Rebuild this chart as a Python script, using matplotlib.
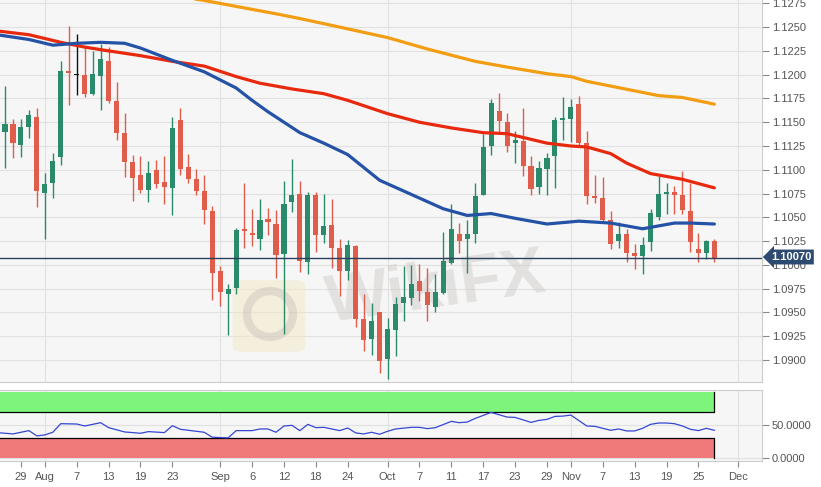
import matplotlib
matplotlib.use('Agg')
import matplotlib.pyplot as plt
import pandas as pd
import numpy as np
from matplotlib.patches import Rectangle, FancyBboxPatch, Ellipse

plt.rcParams['font.family'] = ['Liberation Sans', 'DejaVu Sans']

# ---------------- data ----------------
candle_dates = pd.bdate_range('2019-07-25', '2019-11-27')

opens = [1.1140, 1.1148, 1.1126, 1.1145, 1.1155, 1.1076, 1.1086, 1.1113, 1.1204, 1.1200,
         1.1200, 1.1180, 1.1199, 1.1214, 1.1172, 1.1139, 1.1108, 1.1095, 1.1079, 1.1100,
         1.1087, 1.1081, 1.1152, 1.1103, 1.1090, 1.1078, 1.1057, 1.0994, 1.0969, 1.0976,
         1.1038, 1.1034, 1.1027, 1.1048, 1.1043, 1.1011, 1.1066, 1.1075, 1.1003, 1.1074,
         1.1031, 1.1042, 1.1018, 1.0994, 1.1020, 1.0943, 1.0922, 1.0950, 1.0901, 1.0932,
         1.0960, 1.0965, 1.0983, 1.0972, 1.0956, 1.0970, 1.1002, 1.1033, 1.1027, 1.1033,
         1.1074, 1.1125, 1.1162, 1.1150, 1.1128, 1.1130, 1.1104, 1.1082, 1.1101, 1.1115,
         1.1152, 1.1153, 1.1169, 1.1128, 1.1072, 1.1070, 1.1047, 1.1025, 1.1033, 1.1012,
         1.1009, 1.1024, 1.1050, 1.1075, 1.1077, 1.1073, 1.1057, 1.1017, 1.1012, 1.1025]
highs = [1.1188, 1.1153, 1.1153, 1.1163, 1.1165, 1.1097, 1.1118, 1.1214, 1.1251, 1.1243,
         1.1229, 1.1225, 1.1232, 1.1229, 1.1192, 1.1160, 1.1116, 1.1114, 1.1109, 1.1110,
         1.1114, 1.1155, 1.1165, 1.1117, 1.1101, 1.1094, 1.1062, 1.0999, 1.0980, 1.1039,
         1.1086, 1.1059, 1.1069, 1.1060, 1.1058, 1.1088, 1.1111, 1.1088, 1.1077, 1.1077,
         1.1075, 1.1069, 1.1027, 1.1026, 1.1021, 1.0969, 1.0960, 1.0951, 1.0944, 1.0966,
         1.0999, 1.1000, 1.1001, 1.0997, 1.0990, 1.1035, 1.1064, 1.1044, 1.1047, 1.1086,
         1.1138, 1.1174, 1.1181, 1.1160, 1.1141, 1.1165, 1.1114, 1.1109, 1.1118, 1.1156,
         1.1176, 1.1174, 1.1178, 1.1141, 1.1094, 1.1092, 1.1057, 1.1045, 1.1038, 1.1022,
         1.1029, 1.1059, 1.1093, 1.1086, 1.1083, 1.1099, 1.1086, 1.1034, 1.1026, 1.1027]
lows = [1.1102, 1.1112, 1.1113, 1.1133, 1.1061, 1.1027, 1.1070, 1.1105, 1.1168, 1.1179,
        1.1177, 1.1179, 1.1163, 1.1170, 1.1131, 1.1092, 1.1067, 1.1076, 1.1066, 1.1081,
        1.1064, 1.1052, 1.1095, 1.1086, 1.1073, 1.1043, 1.0963, 1.0957, 1.0926, 1.0969,
        1.1018, 1.1020, 1.1016, 1.1031, 1.0986, 1.0927, 1.1056, 1.0993, 1.0990, 1.1014,
        1.1023, 1.0997, 1.0967, 1.0984, 1.0935, 1.0909, 1.0905, 1.0886, 1.0880, 1.0904,
        1.0941, 1.0958, 1.0962, 1.0941, 1.0951, 1.0969, 1.1001, 1.1013, 1.0991, 1.1023,
        1.1073, 1.1116, 1.1140, 1.1119, 1.1107, 1.1093, 1.1073, 1.1075, 1.1074, 1.1081,
        1.1131, 1.1129, 1.1126, 1.1064, 1.1065, 1.1046, 1.1017, 1.1018, 1.1003, 1.0996,
        1.0990, 1.1015, 1.1047, 1.1054, 1.1054, 1.1053, 1.1014, 1.1003, 1.1006, 1.1003]
closes = [1.1148, 1.1128, 1.1145, 1.1158, 1.1078, 1.1085, 1.1109, 1.1204, 1.1202, 1.1200,
          1.1180, 1.1201, 1.1216, 1.1172, 1.1139, 1.1108, 1.1091, 1.1079, 1.1097, 1.1085,
          1.1082, 1.1144, 1.1101, 1.1090, 1.1078, 1.1058, 1.0992, 1.0971, 1.0975, 1.1037,
          1.1036, 1.1031, 1.1047, 1.1045, 1.1010, 1.1064, 1.1074, 1.1004, 1.1074, 1.1031,
          1.1041, 1.1018, 1.0994, 1.1021, 1.0943, 1.0921, 1.0941, 1.0899, 1.0933, 1.0959,
          1.0966, 1.0980, 1.0973, 1.0958, 1.0971, 1.1004, 1.1038, 1.1025, 1.1033, 1.1072,
          1.1124, 1.1170, 1.1151, 1.1125, 1.1131, 1.1104, 1.1080, 1.1102, 1.1112, 1.1152,
          1.1154, 1.1166, 1.1128, 1.1072, 1.1070, 1.1047, 1.1022, 1.1033, 1.1012, 1.1009,
          1.1021, 1.1055, 1.1075, 1.1077, 1.1074, 1.1058, 1.1024, 1.1012, 1.1025, 1.1007]

last_price = 1.10070

ma_red_dates = ['2019-07-24', '2019-07-30', '2019-08-05', '2019-08-08', '2019-08-13', '2019-08-19',
                '2019-08-23', '2019-08-29', '2019-09-04', '2019-09-09', '2019-09-13', '2019-09-19',
                '2019-09-24', '2019-10-01', '2019-10-07', '2019-10-11', '2019-10-17', '2019-10-22',
                '2019-10-24', '2019-10-29', '2019-11-01', '2019-11-05', '2019-11-08', '2019-11-12',
                '2019-11-15', '2019-11-21', '2019-11-27']
ma_red = [1.1246, 1.1242, 1.1234, 1.1229, 1.1225, 1.1220, 1.1214, 1.1209, 1.1198, 1.1191,
          1.1185, 1.1180, 1.1173, 1.1159, 1.1150, 1.1144, 1.1139, 1.1138, 1.1134, 1.1128,
          1.1125, 1.1124, 1.1117, 1.1107, 1.1096, 1.1090, 1.1081]

ma_blue_dates = ['2019-07-24', '2019-07-30', '2019-08-02', '2019-08-07', '2019-08-12', '2019-08-15',
                 '2019-08-19', '2019-08-23', '2019-08-29', '2019-09-04', '2019-09-06', '2019-09-10',
                 '2019-09-16', '2019-09-19', '2019-09-24', '2019-09-30', '2019-10-04', '2019-10-10',
                 '2019-10-15', '2019-10-18', '2019-10-23', '2019-10-29', '2019-11-04', '2019-11-08',
                 '2019-11-14', '2019-11-20', '2019-11-22', '2019-11-27']
ma_blue = [1.1242, 1.1237, 1.1231, 1.1233, 1.1234, 1.1233, 1.1228, 1.1215, 1.1203, 1.1186,
           1.1173, 1.1161, 1.1139, 1.1128, 1.1116, 1.1089, 1.1074, 1.1059, 1.1052, 1.1054,
           1.1049, 1.1043, 1.1046, 1.1044, 1.1038, 1.1044, 1.1044, 1.1043]

ma_orange_dates = ['2019-08-26', '2019-08-29', '2019-09-11', '2019-09-16', '2019-09-23', '2019-10-01',
                   '2019-10-08', '2019-10-16', '2019-10-22', '2019-10-29', '2019-11-01', '2019-11-05',
                   '2019-11-13', '2019-11-18', '2019-11-21', '2019-11-27']
ma_orange = [1.1282, 1.1278, 1.1264, 1.1259, 1.1250, 1.1239, 1.1227, 1.1214, 1.1208, 1.1201,
             1.1198, 1.1193, 1.1183, 1.1178, 1.1176, 1.1169]

rsi_dates = ['2019-07-24', '2019-07-26', '2019-07-30', '2019-07-31', '2019-08-01', '2019-08-02',
             '2019-08-05', '2019-08-07', '2019-08-08', '2019-08-12', '2019-08-13', '2019-08-15',
             '2019-08-19', '2019-08-20', '2019-08-22', '2019-08-23', '2019-08-26', '2019-08-29',
             '2019-08-30', '2019-09-03', '2019-09-04', '2019-09-06', '2019-09-09', '2019-09-10',
             '2019-09-11', '2019-09-12', '2019-09-13', '2019-09-16', '2019-09-17', '2019-09-18',
             '2019-09-19', '2019-09-20', '2019-09-23', '2019-09-24', '2019-09-25', '2019-09-26',
             '2019-09-27', '2019-09-30', '2019-10-01', '2019-10-02', '2019-10-04', '2019-10-07',
             '2019-10-08', '2019-10-09', '2019-10-11', '2019-10-14', '2019-10-15', '2019-10-16',
             '2019-10-18', '2019-10-22', '2019-10-23', '2019-10-25', '2019-10-28', '2019-10-29',
             '2019-10-30', '2019-10-31', '2019-11-01', '2019-11-05', '2019-11-06', '2019-11-08',
             '2019-11-11', '2019-11-12', '2019-11-13', '2019-11-14', '2019-11-15', '2019-11-18',
             '2019-11-19', '2019-11-20', '2019-11-21', '2019-11-22', '2019-11-25', '2019-11-26',
             '2019-11-27']
rsi = [38.5, 36.5, 41.5, 33.5, 35, 39, 52, 51.5, 48.5, 53.5,
       46, 39.5, 37.5, 40, 38.5, 49, 43.5, 39, 31.5, 30.5,
       41.5, 41.5, 44, 44, 39, 48.5, 49.5, 41.5, 51, 46,
       46.5, 44, 41.5, 45.5, 38, 36.5, 39, 36, 40.5, 44,
       46.5, 46.5, 44.5, 46, 55.5, 53.5, 54.5, 60, 69, 62,
       61.5, 54, 57, 58.5, 63, 63.5, 65, 48.5, 48, 42,
       44, 41, 41, 45, 51, 53, 53, 52, 48.5, 43.5,
       41.5, 45, 42]

tick_dates = ['2019-07-29', '2019-08-01', '2019-08-07', '2019-08-13', '2019-08-19', '2019-08-23',
              '2019-09-02', '2019-09-06', '2019-09-12', '2019-09-18', '2019-09-24', '2019-10-01',
              '2019-10-07', '2019-10-11', '2019-10-17', '2019-10-23', '2019-10-29', '2019-11-01',
              '2019-11-07', '2019-11-13', '2019-11-19', '2019-11-25', '2019-12-02']
tick_labels = ['29', 'Aug', '7', '13', '19', '23', 'Sep', '6', '12', '18', '24', 'Oct',
               '7', '11', '17', '23', '29', 'Nov', '7', '13', '19', '25', 'Dec']
month_dates = ['2019-08-01', '2019-09-02', '2019-10-01', '2019-11-01', '2019-12-02']

# ---------------- helpers ----------------
sessions = pd.bdate_range('2019-07-24', '2019-12-06')
def pos(d):
    return sessions.get_loc(pd.Timestamp(d))

W, H = 821, 487
fig = plt.figure(figsize=(W / 100, H / 100), dpi=100)
fig.patch.set_facecolor('white')

x0 = pos('2019-07-25')
xlim = (x0 - 0.627, x0 + 94.98)

BG = '#f6f6f6'
GRID = '#e1e1e1'
TXT = '#555555'
GREEN = '#2b8a69'
RED = '#df5d4a'

# ---------------- main panel ----------------
ax = fig.add_axes([0, 1 - 382 / H, 762 / W, 382 / H])
ax.set_facecolor(BG)
ax.set_xlim(*xlim)
ax.set_ylim(1.08769, 1.12785)

yt = np.round(np.arange(1.0900, 1.1276, 0.0025), 4)
ax.set_yticks(yt)
ax.set_yticklabels([f'{v:.4f}' for v in yt])
ax.yaxis.tick_right()
ax.tick_params(axis='y', colors='#888888', labelcolor=TXT, labelsize=8, length=5, pad=2, width=0.8)
ax.tick_params(axis='x', bottom=False, labelbottom=False)
ax.grid(True, axis='y', color=GRID, linewidth=0.8, zorder=0)
for d in month_dates:
    ax.axvline(pos(d), color=GRID, linewidth=0.8, zorder=0)
ax.set_axisbelow(True)
for s in ['left', 'top']:
    ax.spines[s].set_visible(False)
for s in ['right', 'bottom']:
    ax.spines[s].set_color('#cccccc')
    ax.spines[s].set_linewidth(0.8)

# watermark
ax.text(436 / 762, 1 - 290 / 382, 'WikiFX', transform=ax.transAxes, fontsize=48,
        fontweight='bold', color='#cdc8c3', alpha=0.45, rotation=8,
        ha='center', va='center', zorder=1)
logo = FancyBboxPatch((236 / W, 1 - 350 / H), 66 / W, 68 / H,
                      boxstyle='round,pad=0.004,rounding_size=0.012',
                      transform=fig.transFigure, facecolor='#f3e9c9', edgecolor='none',
                      alpha=0.55, zorder=1)
ax.add_patch(logo)
mark = Ellipse((270 / W, 1 - 314 / H), 46 / W, 46 / H, transform=fig.transFigure,
               facecolor='none', edgecolor='#bdb6ae', linewidth=6, alpha=0.35, zorder=1)
ax.add_patch(mark)

# candles
xs = np.array([pos(d) for d in candle_dates])
o = np.array(opens); h = np.array(highs); l = np.array(lows); c = np.array(closes)
cols = np.where(c > o, GREEN, np.where(c < o, RED, '#111111'))
ax.vlines(xs, l, h, colors=cols, linewidth=1.0, zorder=3)
bottoms = np.minimum(o, c)
heights = np.maximum(np.abs(c - o), 0.00009)
ax.bar(xs, heights, bottom=bottoms, width=0.64, color=cols, edgecolor='none', zorder=4)

# moving averages
ax.plot([pos(d) for d in ma_orange_dates], ma_orange, color='#f29d12', linewidth=2.3,
        solid_capstyle='round', solid_joinstyle='round', zorder=5)
ax.plot([pos(d) for d in ma_red_dates], ma_red, color='#e8290e', linewidth=2.3,
        solid_capstyle='round', solid_joinstyle='round', zorder=5)
ax.plot([pos(d) for d in ma_blue_dates], ma_blue, color='#2452a6', linewidth=2.3,
        solid_capstyle='round', solid_joinstyle='round', zorder=5)

# last price line and label
ax.axhline(last_price, color='#2b3f5e', linewidth=1.0, zorder=6)
fig.text(771 / W, 1 - 257 / H, f'{last_price:.5f}', color='white', fontsize=8,
         fontweight='bold', ha='left', va='center',
         bbox=dict(boxstyle='larrow,pad=0.22', facecolor='#2d4a70', edgecolor='none'))

# ---------------- RSI panel ----------------
ax2 = fig.add_axes([0, 1 - 461 / H, 762 / W, 71 / H])
ax2.set_facecolor(BG)
ax2.set_xlim(*xlim)
ax2.set_ylim(-4.5, 103)
ax2.set_yticks([0, 50])
ax2.set_yticklabels(['0.0000', '50.0000'])
ax2.yaxis.tick_right()
ax2.tick_params(axis='y', colors='#888888', labelcolor=TXT, labelsize=8, length=5, pad=2, width=0.8)
ax2.set_xticks([pos(d) for d in tick_dates])
ax2.set_xticklabels(tick_labels)
ax2.tick_params(axis='x', colors='#888888', labelcolor=TXT, labelsize=8,
                length=4, pad=4, width=0.8)
ax2.grid(True, axis='y', color=GRID, linewidth=0.8, zorder=0)
for d in month_dates:
    ax2.axvline(pos(d), color=GRID, linewidth=0.8, zorder=0)
ax2.set_axisbelow(True)
ax2.spines['left'].set_visible(False)
for s in ['right', 'top', 'bottom']:
    ax2.spines[s].set_color('#cccccc')
    ax2.spines[s].set_linewidth(0.8)

x_end = pos('2019-11-27')
ax2.add_patch(Rectangle((xlim[0], 70), x_end - xlim[0], 30, facecolor='#7df57a',
                        edgecolor='none', zorder=2))
ax2.add_patch(Rectangle((xlim[0], 0), x_end - xlim[0], 30, facecolor='#f07a7a',
                        edgecolor='none', zorder=2))
ax2.plot([xlim[0], x_end, x_end], [70, 70, 100], color='black', linewidth=0.9, zorder=3)
ax2.plot([xlim[0], x_end, x_end], [30, 30, 0], color='black', linewidth=0.9, zorder=3)
ax2.plot([pos(d) for d in rsi_dates], rsi, color='#3446d2', linewidth=0.9, zorder=4)

fig.savefig('out.png', dpi=100, facecolor='white')
